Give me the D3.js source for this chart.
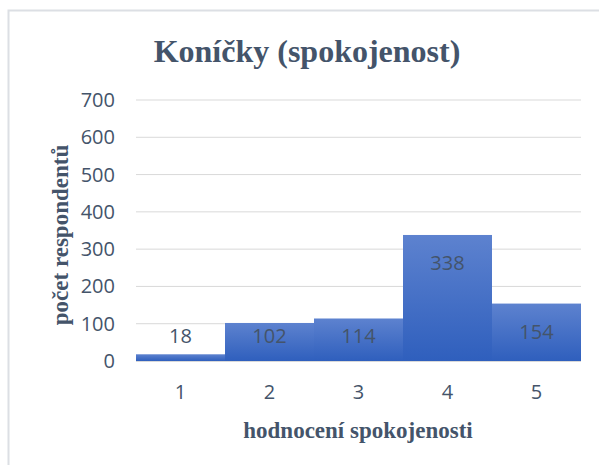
<!DOCTYPE html>
<html>
<head>
<meta charset="utf-8">
<script src="https://cdn.jsdelivr.net/npm/d3@7"></script>
<style>
	body { margin: 0; background: #fff; }
	svg { display: block; }
</style>
</head>
<body>
<svg id="chart" width="599" height="465"></svg>
<script>
const categories = ["1", "2", "3", "4", "5"];
const counts = [18, 102, 114, 338, 154];
const yTicks = [0, 100, 200, 300, 400, 500, 600, 700];

const svg = d3.select("#chart");
const plotLeft = 136, plotRight = 581, plotTop = 100, plotBottom = 361;
const textColor = "#44546a";
const labelFont = "'Open Sans', sans-serif";
const titleFont = "'Liberation Serif', serif";

// frame (only top and left edge visible)
svg.append("path")
	.attr("d", "M8.5,465 V10.5 H599")
	.attr("fill", "none")
	.attr("stroke", "#dcdfe4")
	.attr("stroke-width", 2);

const x = d3.scaleBand().domain(categories).range([plotLeft, plotRight]).padding(0);
const y = d3.scaleLinear().domain([0, 700]).range([plotBottom, plotTop]);

const grad = svg.append("defs").append("linearGradient")
	.attr("id", "barGrad").attr("x1", 0).attr("y1", 0).attr("x2", 0).attr("y2", 1);
grad.append("stop").attr("offset", "0%").attr("stop-color", "#5d82cf");
grad.append("stop").attr("offset", "100%").attr("stop-color", "#2f5fbd");

// gridlines
svg.append("g")
	.selectAll("line")
	.data(yTicks.filter(d => d > 0))
	.join("line")
	.attr("x1", plotLeft).attr("x2", plotRight)
	.attr("y1", d => y(d)).attr("y2", d => y(d))
	.attr("stroke", "#d9d9d9")
	.attr("stroke-width", 1);

// y labels
svg.append("g")
	.selectAll("text")
	.data(yTicks)
	.join("text")
	.attr("x", 115)
	.attr("y", d => y(d))
	.attr("dy", "0.35em")
	.attr("text-anchor", "end")
	.attr("font-family", labelFont)
	.attr("font-size", 20)
	.attr("fill", textColor)
	.text(d => d);

// bars
svg.append("g")
	.selectAll("rect")
	.data(counts)
	.join("rect")
	.attr("x", (d, i) => x(categories[i]))
	.attr("y", d => y(d))
	.attr("width", x.bandwidth())
	.attr("height", d => y(0) - y(d))
	.attr("fill", "url(#barGrad)");

// baseline
svg.append("line")
	.attr("x1", plotLeft).attr("x2", plotRight)
	.attr("y1", plotBottom + 0.5).attr("y2", plotBottom + 0.5)
	.attr("stroke", "#d9d9d9");

// value labels (inside end, kept above the axis)
svg.append("g")
	.selectAll("text")
	.data(counts)
	.join("text")
	.attr("x", (d, i) => x(categories[i]) + x.bandwidth() / 2)
	.attr("y", d => Math.min(y(d) + 28, plotBottom - 25))
	.attr("dy", "0.35em")
	.attr("text-anchor", "middle")
	.attr("font-family", labelFont)
	.attr("font-size", 20)
	.attr("fill", textColor)
	.text(d => d);

// x labels
svg.append("g")
	.selectAll("text")
	.data(categories)
	.join("text")
	.attr("x", d => x(d) + x.bandwidth() / 2)
	.attr("y", 392)
	.attr("dy", "0.35em")
	.attr("text-anchor", "middle")
	.attr("font-family", labelFont)
	.attr("font-size", 20)
	.attr("fill", textColor)
	.text(d => d);

// title
svg.append("text")
	.attr("x", 307).attr("y", 62)
	.attr("text-anchor", "middle")
	.attr("font-family", titleFont)
	.attr("font-weight", "bold")
	.attr("font-size", 32)
	.attr("fill", textColor)
	.text("Koníčky (spokojenost)");

// axis titles
svg.append("text")
	.attr("x", 358).attr("y", 438)
	.attr("text-anchor", "middle")
	.attr("font-family", titleFont)
	.attr("font-weight", "bold")
	.attr("font-size", 23)
	.attr("fill", textColor)
	.text("hodnocení spokojenosti");

svg.append("text")
	.attr("transform", "translate(68,235) rotate(-90)")
	.attr("text-anchor", "middle")
	.attr("font-family", titleFont)
	.attr("font-weight", "bold")
	.attr("font-size", 23)
	.attr("fill", textColor)
	.text("počet respondentů");
</script>
</body>
</html>
